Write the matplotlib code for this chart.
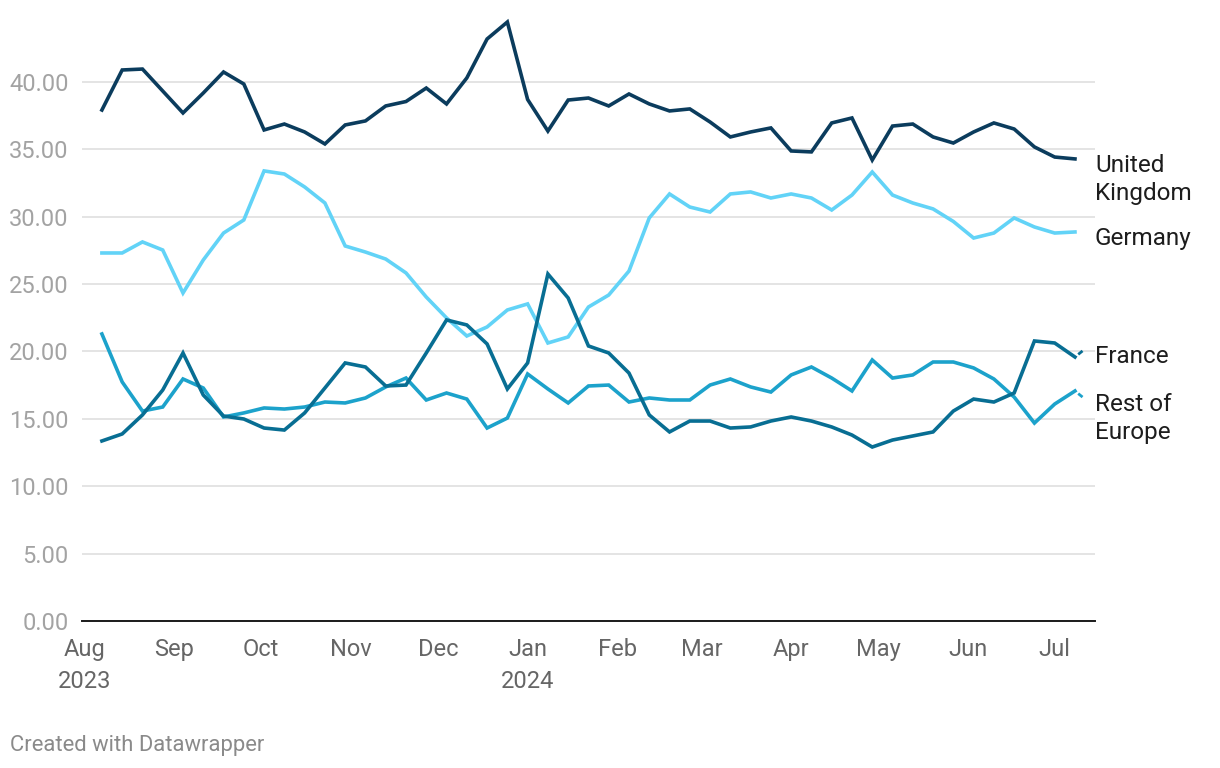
import pandas as pd
import matplotlib
matplotlib.use('Agg')
import matplotlib.pyplot as plt

# weekly values, Aug 7 2023 -> Jul 8 2024
dates = pd.date_range('2023-08-07', periods=49, freq='7D')
last_date = pd.Timestamp('2024-07-11')   # partial week, drawn dashed

uk = [37.92, 40.89, 40.96, 39.33, 37.70, 39.18, 40.74, 39.85, 36.44, 36.88,
      36.29, 35.40, 36.81, 37.11, 38.22, 38.55, 39.55, 38.37, 40.30, 43.19,
      44.45, 38.70, 36.36, 38.66, 38.81, 38.22, 39.11, 38.37, 37.85, 38.00,
      37.03, 35.92, 36.29, 36.59, 34.88, 34.81, 36.96, 37.33, 34.21, 36.73,
      36.88, 35.92, 35.47, 36.29, 36.96, 36.51, 35.18, 34.43, 34.29]
germany = [27.31, 27.31, 28.13, 27.53, 24.34, 26.79, 28.79, 29.76, 33.40, 33.17,
           32.21, 31.02, 27.83, 27.38, 26.86, 25.83, 24.04, 22.49, 21.15, 21.82,
           23.08, 23.53, 20.63, 21.08, 23.30, 24.19, 25.97, 29.91, 31.69, 30.72,
           30.35, 31.69, 31.84, 31.39, 31.69, 31.39, 30.50, 31.61, 33.32, 31.61,
           31.02, 30.58, 29.65, 28.42, 28.79, 29.91, 29.24, 28.79, 28.87]
france = [13.36, 13.88, 15.29, 17.14, 19.89, 16.77, 15.21, 14.99, 14.32, 14.17,
          15.44, 17.29, 19.15, 18.85, 17.44, 17.51, 19.89, 22.34, 21.97, 20.56,
          17.22, 19.15, 25.75, 23.97, 20.41, 19.89, 18.40, 15.29, 14.03, 14.84,
          14.84, 14.32, 14.40, 14.84, 15.14, 14.84, 14.40, 13.80, 12.91, 13.43,
          13.73, 14.03, 15.58, 16.47, 16.25, 16.92, 20.78, 20.63, 19.59]
france_last = 20.11
rest_europe = [21.30, 17.74, 15.58, 15.88, 17.96, 17.29, 15.14, 15.44, 15.81, 15.73,
               15.88, 16.25, 16.18, 16.55, 17.37, 18.03, 16.40, 16.92, 16.47, 14.32,
               15.06, 18.33, 17.22, 16.18, 17.44, 17.51, 16.25, 16.55, 16.40, 16.40,
               17.51, 17.96, 17.37, 16.99, 18.26, 18.85, 18.03, 17.07, 19.37, 18.03,
               18.26, 19.22, 19.22, 18.78, 17.96, 16.62, 14.69, 16.10, 17.07]
rest_europe_last = 16.55

yticks = [0, 5, 10, 15, 20, 25, 30, 35, 40]
months = pd.date_range('2023-08-01', '2024-07-01', freq='MS')
month_labels = ['Aug\n2023', 'Sep', 'Oct', 'Nov', 'Dec', 'Jan\n2024',
                'Feb', 'Mar', 'Apr', 'May', 'Jun', 'Jul']

c_uk = '#0b3c5d'
c_de = '#62d3f7'
c_fr = '#086e93'
c_re = '#1ca2cb'

plt.rcParams['font.family'] = ['Roboto', 'DejaVu Sans']

fig = plt.figure(figsize=(12.2, 7.68), dpi=100)
ax = fig.add_axes([82 / 1220, 1 - 621 / 768, (1095 - 82) / 1220, (621 - 14.6) / 768])

lw = 2.6
ax.plot(dates, germany, color=c_de, lw=lw, solid_joinstyle='miter', zorder=3)
ax.plot(dates, rest_europe, color=c_re, lw=lw, solid_joinstyle='miter', zorder=3)
ax.plot(dates, france, color=c_fr, lw=lw, solid_joinstyle='miter', zorder=4)
ax.plot(dates, uk, color=c_uk, lw=lw, solid_joinstyle='miter', zorder=5)
# partial last week, dashed (starts with a gap)
dash = (2, (2, 1.5))
ax.plot([dates[-1], last_date], [france[-1], france_last], color=c_fr, lw=2, ls=dash, zorder=4)
ax.plot([dates[-1], last_date], [rest_europe[-1], rest_europe_last], color=c_re, lw=2, ls=dash, zorder=3)

ax.set_xlim(pd.Timestamp('2023-07-31 03:00'), pd.Timestamp('2024-07-14 22:00'))
ax.set_ylim(0, 45)

ax.set_yticks(yticks)
ax.set_yticklabels(['%.2f' % v for v in yticks])
ax.set_xticks(months)
ax.set_xticklabels(month_labels, linespacing=1.48)
ax.tick_params(axis='y', length=0, pad=9.5, labelsize=17, labelcolor='#a3a3a3')
ax.tick_params(axis='x', length=0, pad=12.5, labelsize=17, labelcolor='#666666')

ax.grid(axis='y', color='#e2e2e2', lw=1.3)
ax.set_axisbelow(True)
for s in ['top', 'right', 'left']:
    ax.spines[s].set_visible(False)
ax.spines['bottom'].set_color('#1a1a1a')
ax.spines['bottom'].set_linewidth(1.4)
ax.spines['bottom'].set_zorder(6)

# line labels at the right edge, one text per line
end_labels = [(['United', 'Kingdom'], uk[-1]), (['Germany'], germany[-1]),
              (['France'], france_last), (['Rest of', 'Europe'], rest_europe_last)]
for lines, val in end_labels:
    for k, txt in enumerate(lines):
        ax.annotate(txt, xy=(1.0, val), xycoords=('axes fraction', 'data'),
                    xytext=(0, -13 - 28 * k), textcoords='offset pixels',
                    ha='left', va='baseline', fontsize=17.5, color='#1d1d1d',
                    annotation_clip=False)

fig.text(10 / 1220, 1 - 745 / 768, 'Created with Datawrapper', fontsize=15.8,
         color='#8a8a8a', ha='left', va='center')

fig.savefig('out.png', dpi=100)
